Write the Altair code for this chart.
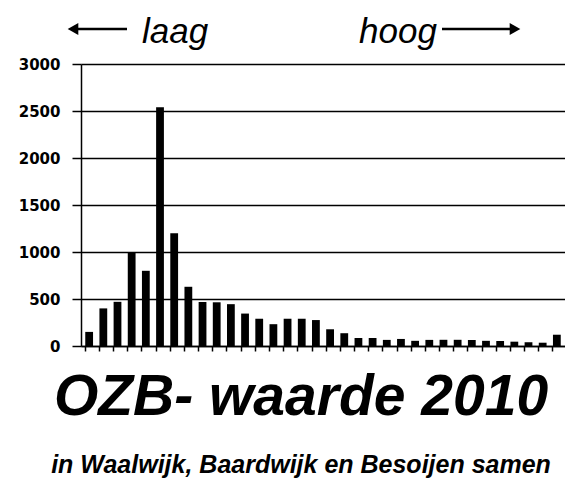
import altair as alt
import pandas as pd

# Values
klassen = list(range(1, 35))
aantallen = [150, 400, 470, 1000, 800, 2540, 1200, 630, 468, 465, 445, 345,
             290, 232, 290, 290, 276, 178, 136, 85, 85, 65, 75, 55,
             65, 66, 66, 64, 55, 53, 46, 40, 35, 120]
y_ticks = [0, 500, 1000, 1500, 2000, 2500, 3000]

df = pd.DataFrame({"klasse": klassen, "aantal": aantallen})

bars = alt.Chart(df).mark_bar(color="black").encode(
    x=alt.X("klasse:O",
            scale=alt.Scale(paddingInner=0.45, paddingOuter=0.3),
            axis=alt.Axis(labels=False, title=None, ticks=True, tickColor="black",
                          tickSize=5, tickWidth=1.5, bandPosition=0, domainColor="black",
                          domainWidth=1.5, grid=False)),
    y=alt.Y("aantal:Q",
            scale=alt.Scale(domain=[0, 3000]),
            axis=alt.Axis(values=y_ticks, format="d", title=None, grid=True,
                          gridColor="black", gridWidth=1.5, gridOpacity=1,
                          domainColor="black", domainWidth=1.5, tickColor="black",
                          tickSize=9, tickWidth=1.5,
                          labelFont="DejaVu Sans", labelFontWeight="bold",
                          labelFontSize=15, labelColor="black", labelPadding=12)),
)

def label(txt, x, y, size):
    return alt.Chart(pd.DataFrame({"t": [txt]})).mark_text(
        font="Liberation Sans", fontSize=size, fontStyle="italic", color="black",
        align="left", baseline="alphabetic"
    ).encode(text="t:N", x=alt.value(x), y=alt.value(y))

def shaft(x1, x2, y):
    return alt.Chart(pd.DataFrame({"a": [0]})).mark_rule(
        color="black", strokeWidth=2.5
    ).encode(x=alt.value(x1), x2=alt.value(x2), y=alt.value(y))

def head(x, y, shape):
    return alt.Chart(pd.DataFrame({"a": [0]})).mark_point(
        shape=shape, filled=True, color="black", opacity=1, size=150
    ).encode(x=alt.value(x), y=alt.value(y))

laag = label("laag", 61, -21, 35)
hoog = label("hoog", 278, -21, 35)
arrow_l = shaft(-10, 46, -35) + head(-8, -35, "triangle-left")
arrow_r = shaft(361, 436, -35) + head(434, -35, "triangle-right")

chart = alt.layer(bars, laag, hoog, arrow_l, arrow_r).properties(
    width=484,
    height=282,
    padding={"left": 10, "top": 7, "right": 0, "bottom": 0},
    title=alt.TitleParams(
        text="OZB- waarde 2010",
        subtitle="in Waalwijk, Baardwijk en Besoijen samen",
        orient="bottom", anchor="middle", dx=-22, offset=16,
        font="Liberation Sans", fontSize=57, fontWeight="bold", fontStyle="italic",
        color="black",
        subtitleFont="Liberation Sans", subtitleFontSize=25,
        subtitleFontWeight="bold", subtitleFontStyle="italic",
        subtitleColor="black", subtitlePadding=26,
    ),
).configure_view(stroke=None)

chart.save("out.html", embed_options={"renderer": "svg", "actions": False})
